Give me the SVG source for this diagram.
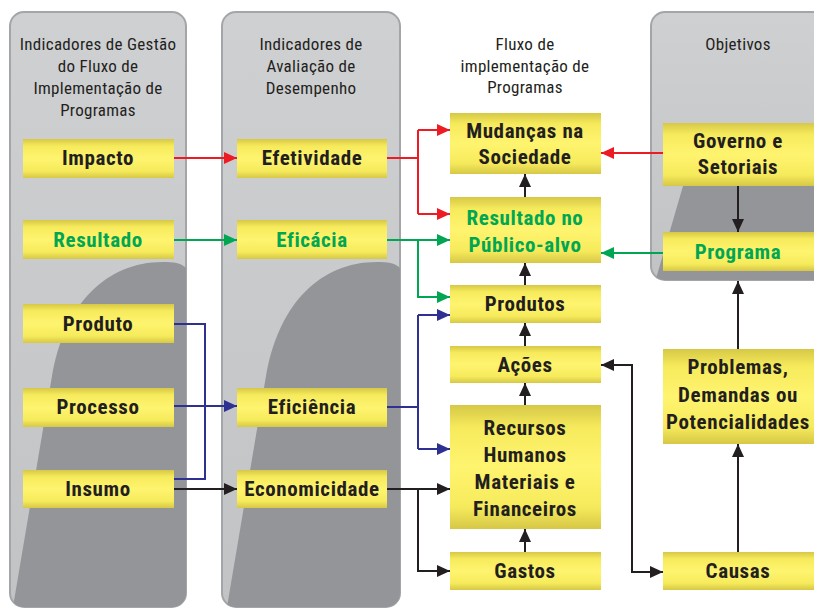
<svg xmlns="http://www.w3.org/2000/svg" width="814" height="609" viewBox="0 0 814 609">
<style>
.lbl{font-family:"Liberation Sans Narrow","Roboto Condensed","DejaVu Sans Condensed","Liberation Sans",sans-serif;font-stretch:condensed;font-weight:bold;font-size:21px;text-anchor:middle;fill:#231f20;letter-spacing:0.6px}
.grn{fill:#00a651}
.hdr{font-family:"Liberation Sans Narrow","Roboto Condensed","DejaVu Sans Condensed","Liberation Sans",sans-serif;font-stretch:condensed;font-size:17px;text-anchor:middle;fill:#231f20;letter-spacing:0.3px}
.box{fill:url(#yel)}
.panel{fill:url(#pg);stroke:#a3a5a8;stroke-width:2}
.dark{fill:#939598}
.c{fill:none;stroke-width:2}
.r{stroke:#ed1c24}
.g{stroke:#00a651}
.b{stroke:#2e3192}
.k{stroke:#231f20}
</style>
<defs>
<linearGradient id="yel" x1="0" y1="0" x2="0" y2="1">
<stop offset="0" stop-color="#d6c846"/>
<stop offset="0.18" stop-color="#f6ea5c"/>
<stop offset="0.5" stop-color="#fff46f"/>
<stop offset="0.82" stop-color="#f6ea5c"/>
<stop offset="1" stop-color="#d6c846"/>
</linearGradient>
<linearGradient id="pg" x1="0" y1="0" x2="0" y2="1">
<stop offset="0" stop-color="#cfd0d2"/>
<stop offset="1" stop-color="#c2c3c5"/>
</linearGradient>
<clipPath id="cl1"><rect x="10" y="12" width="176" height="595" rx="14"/></clipPath>
<clipPath id="cl2"><rect x="222" y="12" width="178" height="595" rx="14"/></clipPath>
<clipPath id="cl3"><rect x="651" y="12" width="180" height="268" rx="14"/></clipPath>
<marker id="ar" markerUnits="userSpaceOnUse" markerWidth="14" markerHeight="12" refX="13" refY="6" orient="auto"><path d="M0,0 L13,6 L0,12 z" fill="#ed1c24"/></marker>
<marker id="ag" markerUnits="userSpaceOnUse" markerWidth="14" markerHeight="12" refX="13" refY="6" orient="auto"><path d="M0,0 L13,6 L0,12 z" fill="#00a651"/></marker>
<marker id="ab" markerUnits="userSpaceOnUse" markerWidth="14" markerHeight="12" refX="13" refY="6" orient="auto"><path d="M0,0 L13,6 L0,12 z" fill="#2e3192"/></marker>
<marker id="ak" markerUnits="userSpaceOnUse" markerWidth="14" markerHeight="12" refX="13" refY="6" orient="auto"><path d="M0,0 L13,6 L0,12 z" fill="#231f20"/></marker>
<marker id="aks" markerUnits="userSpaceOnUse" markerWidth="14" markerHeight="12" refX="13" refY="6" orient="auto-start-reverse"><path d="M0,0 L13,6 L0,12 z" fill="#231f20"/></marker>
</defs>

<g id="panels">
<rect class="panel" x="10" y="12" width="176" height="595" rx="14"/>
<path class="dark" clip-path="url(#cl1)" d="M188,270 C182,263 175,262 163,262 C105,262 66,305 53,370 L13,607 L188,607 Z"/>
<rect class="panel" x="222" y="12" width="178" height="595" rx="14"/>
<path class="dark" clip-path="url(#cl2)" d="M402,270 C396,263 389,262 377,262 C319,262 280,305 267,370 L227,607 L402,607 Z"/>
<rect class="panel" x="651" y="12" width="180" height="268" rx="14"/>
<path class="dark" clip-path="url(#cl3)" d="M683,186 L830,186 L830,282 L655,282 Z"/>
<text class="hdr" x="98" y="50">Indicadores de Gestão</text>
<text class="hdr" x="98" y="72">do Fluxo de</text>
<text class="hdr" x="98" y="94">Implementação de</text>
<text class="hdr" x="98" y="116">Programas</text>
<text class="hdr" x="311" y="50">Indicadores de</text>
<text class="hdr" x="311" y="72">Avaliação de</text>
<text class="hdr" x="311" y="94">Desempenho</text>
<text class="hdr" x="525" y="50">Fluxo de</text>
<text class="hdr" x="525" y="72">implementação de</text>
<text class="hdr" x="525" y="93">Programas</text>
<text class="hdr" x="738" y="50">Objetivos</text>
</g>

<g id="connectors">
<path class="c r" d="M174,158 H237" marker-end="url(#ar)"/>
<path class="c r" d="M387,158 H418"/>
<path class="c r" d="M418,130 V214"/>
<path class="c r" d="M418,130 H450" marker-end="url(#ar)"/>
<path class="c r" d="M418,214 H450" marker-end="url(#ar)"/>
<path class="c r" d="M663,153 H601" marker-end="url(#ar)"/>
<path class="c g" d="M174,240 H237" marker-end="url(#ag)"/>
<path class="c g" d="M387,240 H450" marker-end="url(#ag)"/>
<path class="c g" d="M418,240 V297 H450" marker-end="url(#ag)"/>
<path class="c g" d="M663,253 H601" marker-end="url(#ag)"/>
<path class="c b" d="M174,324 H205 V479 H174"/>
<path class="c b" d="M174,406 H237" marker-end="url(#ab)"/>
<path class="c b" d="M387,407 H418"/>
<path class="c b" d="M418,315 V449"/>
<path class="c b" d="M418,315 H450" marker-end="url(#ab)"/>
<path class="c b" d="M418,449 H450" marker-end="url(#ab)"/>
<path class="c k" d="M174,489 H237" marker-end="url(#ak)"/>
<path class="c k" d="M387,489 H450" marker-end="url(#ak)"/>
<path class="c k" d="M418,489 V571 H450" marker-end="url(#ak)"/>
<path class="c k" d="M525,197 V174" marker-end="url(#ak)"/>
<path class="c k" d="M525,285 V263" marker-end="url(#ak)"/>
<path class="c k" d="M525,346 V323" marker-end="url(#ak)"/>
<path class="c k" d="M525,405 V383" marker-end="url(#ak)"/>
<path class="c k" d="M525,552 V529" marker-end="url(#ak)"/>
<path class="c k" d="M738,186 V232" marker-end="url(#ak)"/>
<path class="c k" d="M738,349 V281" marker-end="url(#ak)"/>
<path class="c k" d="M738,552 V444" marker-end="url(#ak)"/>
<path class="c k" d="M601,365 H632 V572 H663" marker-start="url(#aks)" marker-end="url(#ak)"/>
</g>

<g id="impacto"><rect class="box" x="23" y="139" width="151" height="39"/><text class="lbl" x="98" y="165">Impacto</text></g>
<g id="resultado"><rect class="box" x="23" y="220" width="151" height="39"/><text class="lbl grn" x="98" y="247">Resultado</text></g>
<g id="produto"><rect class="box" x="23" y="304" width="151" height="39"/><text class="lbl" x="98" y="331">Produto</text></g>
<g id="processo"><rect class="box" x="23" y="388" width="151" height="39"/><text class="lbl" x="98" y="414">Processo</text></g>
<g id="insumo"><rect class="box" x="23" y="470" width="151" height="38"/><text class="lbl" x="98" y="496">Insumo</text></g>

<g id="efetividade"><rect class="box" x="237" y="139" width="150" height="39"/><text class="lbl" x="312" y="165">Efetividade</text></g>
<g id="eficacia"><rect class="box" x="237" y="220" width="150" height="39"/><text class="lbl grn" x="312" y="247">Eficácia</text></g>
<g id="eficiencia"><rect class="box" x="237" y="388" width="150" height="39"/><text class="lbl" x="312" y="414">Eficiência</text></g>
<g id="economicidade"><rect class="box" x="237" y="470" width="150" height="38"/><text class="lbl" x="312" y="496">Economicidade</text></g>

<g id="mudancas"><rect class="box" x="450" y="113" width="151" height="61"/><text class="lbl" x="525" y="138">Mudanças na</text><text class="lbl" x="525" y="164">Sociedade</text></g>
<g id="resultado-publico"><rect class="box" x="450" y="197" width="151" height="66"/><text class="lbl grn" x="525" y="225">Resultado no</text><text class="lbl grn" x="525" y="252">Público-alvo</text></g>
<g id="produtos"><rect class="box" x="450" y="285" width="151" height="38"/><text class="lbl" x="525" y="311">Produtos</text></g>
<g id="acoes"><rect class="box" x="450" y="346" width="151" height="37"/><text class="lbl" x="525" y="372">Ações</text></g>
<g id="recursos"><rect class="box" x="450" y="405" width="151" height="124"/><text class="lbl" x="525" y="435">Recursos</text><text class="lbl" x="525" y="462">Humanos</text><text class="lbl" x="525" y="489">Materiais e</text><text class="lbl" x="525" y="516">Financeiros</text></g>
<g id="gastos"><rect class="box" x="450" y="552" width="151" height="38"/><text class="lbl" x="525" y="578">Gastos</text></g>

<g id="governo"><rect class="box" x="663" y="123" width="151" height="63"/><text class="lbl" x="738" y="148">Governo e</text><text class="lbl" x="738" y="174">Setoriais</text></g>
<g id="programa"><rect class="box" x="663" y="232" width="151" height="39"/><text class="lbl grn" x="738" y="259">Programa</text></g>
<g id="problemas"><rect class="box" x="663" y="349" width="151" height="95"/><text class="lbl" x="738" y="374">Problemas,</text><text class="lbl" x="738" y="402">Demandas ou</text><text class="lbl" x="738" y="429">Potencialidades</text></g>
<g id="causas"><rect class="box" x="663" y="552" width="151" height="38"/><text class="lbl" x="738" y="578">Causas</text></g>
</svg>
